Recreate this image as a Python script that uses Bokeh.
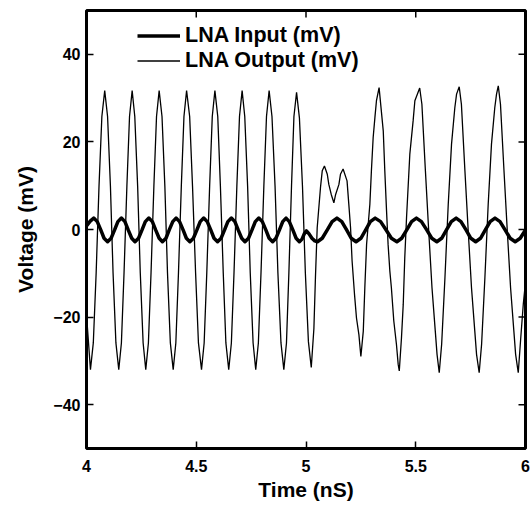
import math
from bokeh.plotting import figure
from bokeh.models import FixedTicker, NumeralTickFormatter, Legend, LegendItem, Range1d
from bokeh.embed import file_html
from bokeh.resources import INLINE

# ---------------- data ----------------
x_label = "Time (nS)"
y_label = "Voltage (mV)"
series_names = ["LNA Input (mV)", "LNA Output (mV)"]
x_ticks = [4.0, 4.5, 5.0, 5.5, 6.0]
y_ticks = [-40, -20, 0, 20, 40]

out_t = [4.000, 4.018,
         4.031, 4.044, 4.057, 4.070, 4.083,
         4.096, 4.109, 4.121, 4.134, 4.147,
         4.159, 4.171, 4.184, 4.196, 4.208,
         4.220, 4.233, 4.245, 4.258, 4.270,
         4.282, 4.294, 4.307, 4.319, 4.331,
         4.344, 4.357, 4.369, 4.382, 4.395,
         4.407, 4.419, 4.432, 4.444, 4.456,
         4.470, 4.483, 4.497, 4.510, 4.524,
         4.536, 4.548, 4.561, 4.573, 4.585,
         4.598, 4.610, 4.623, 4.635, 4.648,
         4.660, 4.672, 4.685, 4.697, 4.709,
         4.721, 4.734, 4.746, 4.759, 4.771,
         4.783, 4.795, 4.808, 4.820, 4.832,
         4.845, 4.859, 4.872, 4.886, 4.899,
         4.911, 4.922, 4.934, 4.945, 4.957,
         4.970, 4.984, 4.997, 5.011, 5.024,
         5.036, 5.043, 5.051, 5.066, 5.074, 5.084, 5.097, 5.104, 5.115, 5.127,
         5.135, 5.150, 5.157, 5.169, 5.187, 5.195, 5.203, 5.210, 5.221, 5.230,
         5.241, 5.250,
         5.261, 5.268, 5.276, 5.291, 5.298, 5.306, 5.314, 5.321, 5.333,
         5.352, 5.359, 5.367, 5.374, 5.382, 5.389, 5.400, 5.412, 5.420, 5.425,
         5.435, 5.443, 5.450, 5.458, 5.473, 5.488, 5.496, 5.518,
         5.528, 5.544, 5.559, 5.574, 5.589, 5.597, 5.607,
         5.618, 5.633, 5.648, 5.663, 5.678, 5.686, 5.698,
         5.708, 5.724, 5.739, 5.754, 5.769, 5.777, 5.789,
         5.800, 5.815, 5.830, 5.845, 5.860, 5.868, 5.876,
         5.886, 5.902, 5.917, 5.932, 5.947, 5.955, 5.967,
         5.978, 5.990, 6.000]

out_v = [-19.5, -32.0,
         -25.9, -9.9, 9.9, 25.8, 31.7,
         25.8, 9.9, -9.9, -25.9, -32.0,
         -25.9, -9.9, 9.9, 25.8, 31.7,
         25.8, 9.9, -9.9, -25.9, -32.0,
         -25.9, -9.9, 9.9, 25.8, 31.7,
         25.8, 9.9, -9.9, -25.9, -32.0,
         -25.9, -9.9, 9.9, 25.8, 31.7,
         25.8, 9.9, -9.9, -25.9, -32.0,
         -25.9, -9.9, 9.9, 25.8, 31.7,
         25.8, 9.9, -9.9, -25.9, -32.0,
         -25.9, -9.9, 9.9, 25.8, 31.7,
         25.8, 9.9, -9.9, -25.9, -32.0,
         -25.9, -9.9, 9.9, 25.8, 31.7,
         25.8, 9.9, -9.9, -25.9, -32.0,
         -25.9, -9.9, 9.9, 25.8, 31.3,
         25.5, 9.8, -9.8, -25.6, -31.5,
         -22.6, -11.0, 0.4, 9.6, 13.4, 14.5, 12.6, 10.3, 8.0, 6.1,
         8.0, 10.3, 12.6, 13.8, 11.1, 5.8, 0.4, -7.2, -14.8, -20.2,
         -24.0, -29.0,
         -23.2, -13.3, -3.4, 5.8, 13.4, 21.0, 25.6, 29.4, 32.4,
         22.5, 13.4, 4.2, -3.4, -9.5, -13.3, -20.9, -26.2, -30.8, -32.3,
         -24.7, -17.1, -6.4, 2.7, 17.2, 24.8, 29.4, 32.3,
         28.6, 13.4, -0.3, -13.3, -23.2, -28.5, -32.7,
         -26.2, -11.0, 5.7, 19.5, 27.8, 30.9, 32.6,
         28.6, 13.4, -0.3, -13.3, -23.2, -28.5, -32.7,
         -26.2, -11.0, 5.7, 19.5, 27.8, 30.9, 32.8,
         28.6, 13.4, -0.3, -13.3, -23.2, -28.5, -32.7,
         -25.0, -17.0, -12.0]

in_t = [4.000, 4.017, 4.033,
        4.049, 4.065, 4.080, 4.096,
        4.112, 4.128, 4.143, 4.159,
        4.175, 4.190, 4.206, 4.221,
        4.237, 4.253, 4.268, 4.284,
        4.300, 4.315, 4.331, 4.346,
        4.362, 4.377, 4.393, 4.408,
        4.424, 4.440, 4.455, 4.471,
        4.487, 4.503, 4.518, 4.534,
        4.550, 4.566, 4.581, 4.597,
        4.613, 4.629, 4.644, 4.660,
        4.676, 4.691, 4.707, 4.722,
        4.738, 4.754, 4.769, 4.785,
        4.801, 4.817, 4.832, 4.848,
        4.863, 4.879, 4.894, 4.909,
        4.924, 4.940, 4.955, 4.970,
        4.982, 4.992, 5.002, 5.014, 5.027, 5.040, 5.052,
        5.074, 5.097, 5.119, 5.141,
        5.163, 5.185, 5.206, 5.228,
        5.250, 5.272, 5.293, 5.315,
        5.340, 5.365, 5.389, 5.414,
        5.436, 5.459, 5.481, 5.503,
        5.526, 5.550, 5.573, 5.596,
        5.618, 5.640, 5.662, 5.684,
        5.706, 5.729, 5.751, 5.773,
        5.795, 5.817, 5.839, 5.861,
        5.884, 5.907, 5.930, 5.953,
        5.976, 6.000]

in_v = [0.8, 1.9, 2.6,
        1.8, -0.1, -2.0, -2.8,
        -2.0, -0.1, 1.8, 2.6,
        1.8, -0.1, -2.0, -2.8,
        -2.0, -0.1, 1.8, 2.6,
        1.8, -0.1, -2.0, -2.8,
        -2.0, -0.1, 1.8, 2.6,
        1.8, -0.1, -2.0, -2.8,
        -2.0, -0.1, 1.8, 2.6,
        1.8, -0.1, -2.0, -2.8,
        -2.0, -0.1, 1.8, 2.6,
        1.8, -0.1, -2.0, -2.8,
        -2.0, -0.1, 1.8, 2.6,
        1.8, -0.1, -2.0, -2.8,
        -2.0, -0.1, 1.8, 2.6,
        1.8, -0.1, -2.0, -2.8,
        -2.2, -1.0, -0.3, -1.0, -2.0, -2.6, -2.8,
        -2.0, -0.1, 1.8, 2.6,
        1.8, -0.1, -2.0, -2.8,
        -2.0, -0.1, 1.8, 2.6,
        1.8, -0.1, -2.0, -2.8,
        -2.0, -0.1, 1.8, 2.6,
        1.8, -0.1, -2.0, -2.8,
        -2.0, -0.1, 1.8, 2.6,
        1.8, -0.1, -2.0, -2.8,
        -2.0, -0.1, 1.8, 2.6,
        1.8, -0.1, -2.0, -2.8,
        -2.0, -0.1]

x_start, x_end = 4.0, 6.0
y_start, y_end = -50.0, 50.0

# ---------------- figure ----------------
FONT = "Liberation Sans"

p = figure(width=531, height=505, output_backend="svg", toolbar_location=None,
           x_range=Range1d(x_start, x_end), y_range=Range1d(y_start, y_end),
           min_border_left=86, min_border_right=6, min_border_top=10, min_border_bottom=57,
           x_axis_label=x_label, y_axis_label=y_label)

p.background_fill_color = "white"
p.border_fill_color = "white"
p.outline_line_color = "black"
p.outline_line_width = 3
p.xgrid.visible = False
p.ygrid.visible = False

p.xaxis.ticker = FixedTicker(ticks=x_ticks)
p.yaxis.ticker = FixedTicker(ticks=y_ticks)
p.xaxis.formatter = NumeralTickFormatter(format="0.[0]")

for ax in (p.xaxis[0], p.yaxis[0]):
    ax.axis_line_color = None
    ax.major_tick_in = 7
    ax.major_tick_out = 0
    ax.major_tick_line_width = 1.5
    ax.minor_tick_line_color = None
    ax.major_label_text_font = FONT
    ax.major_label_text_font_style = "bold"
    ax.major_label_text_font_size = "16px"
    ax.major_label_text_color = "black"
    ax.axis_label_text_font = FONT
    ax.axis_label_text_font_style = "bold"
    ax.axis_label_text_font_size = "21px"
    ax.axis_label_text_color = "black"

p.xaxis.major_label_standoff = 11
p.xaxis.axis_label_standoff = 3
p.yaxis.major_label_standoff = 6
p.yaxis.axis_label_standoff = 13

# mirrored inner ticks on the top and right frame edges
p.ray(x=x_ticks, y=[y_end] * len(x_ticks), length=7, length_units="screen",
      angle=-math.pi / 2, line_color="black", line_width=1.5)
p.ray(x=[x_end] * len(y_ticks), y=y_ticks, length=7, length_units="screen",
      angle=math.pi, line_color="black", line_width=1.5)

r_in = p.line(in_t, in_v, line_color="black", line_width=3.5, line_join="round")
r_out = p.line(out_t, out_v, line_color="black", line_width=1.3)

legend = Legend(items=[LegendItem(label=series_names[0], renderers=[r_in]),
                       LegendItem(label=series_names[1], renderers=[r_out])],
                location=(51, 375))
legend.background_fill_alpha = 0
legend.border_line_color = None
legend.padding = 0
legend.margin = 0
legend.spacing = 0
legend.glyph_width = 43
legend.glyph_height = 23
legend.label_height = 23
legend.label_standoff = 5
legend.label_text_font = FONT
legend.label_text_font_style = "bold"
legend.label_text_font_size = "21.5px"
legend.label_text_color = "black"
p.add_layout(legend, "center")

open("out.html", "w").write(file_html(p, INLINE))
